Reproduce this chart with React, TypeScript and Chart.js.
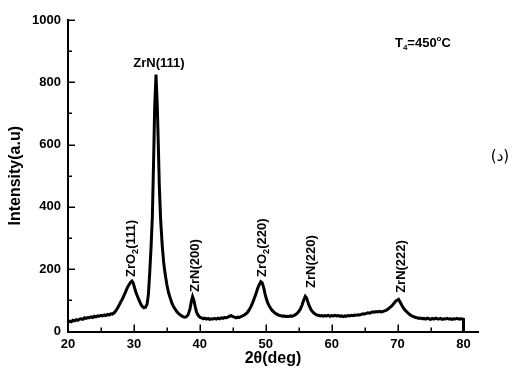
import React, { useEffect, useRef } from 'react';
import { Chart, registerables } from 'chart.js';

Chart.register(...registerables);

// 2θ (deg) positions of the trace
const twoTheta = [
  20.0, 20.25, 20.5, 20.75, 21.0, 21.25, 21.5, 21.75, 22.0, 22.25, 22.5, 22.75,
  23.0, 23.25, 23.5, 23.75, 24.0, 24.25, 24.5, 24.75, 25.0, 25.25, 25.5, 25.75,
  26.0, 26.25, 26.5, 26.75, 27.0, 27.25, 27.5, 27.75, 28.0, 28.25, 28.5, 28.75,
  29.0, 29.25, 29.5, 29.7, 29.9, 30.1, 30.3, 30.5, 30.75, 31.0, 31.25, 31.5,
  31.75, 32.0, 32.2, 32.4, 32.6, 32.8, 33.0, 33.15, 33.35, 33.55, 33.7, 33.85,
  34.05, 34.3, 34.5, 34.7, 35.0, 35.25, 35.5, 35.75, 36.0, 36.25, 36.5, 36.75,
  37.0, 37.25, 37.5, 37.75, 38.0, 38.25, 38.5, 38.7, 38.9, 39.1, 39.3, 39.5,
  39.75, 40.0, 40.25, 40.5, 40.75, 41.0, 41.25, 41.5, 41.75, 42.0, 42.25, 42.5,
  42.75, 43.0, 43.25, 43.5, 43.75, 44.0, 44.25, 44.5, 44.75, 45.0, 45.25, 45.5,
  45.75, 46.0, 46.25, 46.5, 46.75, 47.0, 47.25, 47.5, 47.75, 48.0, 48.25, 48.5,
  48.75, 49.0, 49.25, 49.45, 49.7, 49.9, 50.1, 50.3, 50.5, 50.75, 51.0, 51.25,
  51.5, 51.75, 52.0, 52.25, 52.5, 52.75, 53.0, 53.25, 53.5, 53.75, 54.0, 54.25,
  54.5, 54.75, 55.0, 55.25, 55.5, 55.75, 56.0, 56.2, 56.4, 56.6, 56.8, 57.0,
  57.25, 57.5, 57.75, 58.0, 58.25, 58.5, 58.75, 59.0, 59.25, 59.5, 59.75, 60.0,
  60.25, 60.5, 60.75, 61.0, 61.25, 61.5, 61.75, 62.0, 62.25, 62.5, 62.75, 63.0,
  63.25, 63.5, 63.75, 64.0, 64.25, 64.5, 64.75, 65.0, 65.25, 65.5, 65.75, 66.0,
  66.25, 66.5, 66.75, 67.0, 67.25, 67.5, 67.75, 68.0, 68.25, 68.5, 68.75, 69.0,
  69.25, 69.5, 69.75, 70.0, 70.15, 70.3, 70.5, 70.75, 71.0, 71.25, 71.5, 71.75,
  72.0, 72.25, 72.5, 72.75, 73.0, 73.25, 73.5, 73.75, 74.0, 74.25, 74.5, 74.75,
  75.0, 75.25, 75.5, 75.75, 76.0, 76.25, 76.5, 76.75, 77.0, 77.25, 77.5, 77.75,
  78.0, 78.25, 78.5, 78.75, 79.0, 79.25, 79.5, 79.75, 80.0, 80.0,
];

// Intensity (a.u)
const intensity = [
  30, 33, 31, 36, 34, 38, 36, 40, 41, 39, 44, 42,
  45, 44, 47, 45, 49, 47, 50, 49, 52, 50, 53, 51,
  55, 53, 57, 56, 60, 66, 75, 84, 95, 104, 116, 128,
  141, 150, 158, 162, 155, 140, 126, 115, 102, 90, 81, 76,
  78, 88, 120, 190, 270, 370, 560, 720, 825, 720, 600, 470,
  360, 275, 225, 190, 150, 125, 108, 92, 80, 72, 64, 58,
  54, 50, 47, 46, 48, 55, 72, 95, 112, 100, 80, 62,
  52, 46, 44, 41, 43, 40, 42, 39, 41, 40, 42, 40,
  43, 41, 44, 42, 45, 44, 46, 49, 51, 48, 46, 44,
  46, 45, 48, 50, 53, 57, 62, 70, 80, 92, 106, 120,
  137, 150, 160, 157, 140, 120, 104, 92, 83, 74, 67, 62,
  58, 55, 52, 51, 49, 50, 48, 49, 48, 50, 49, 51,
  54, 58, 64, 72, 84, 100, 113, 108, 94, 82, 73, 66,
  60, 56, 53, 52, 50, 51, 49, 51, 50, 52, 49, 51,
  50, 52, 50, 51, 49, 50, 48, 50, 49, 51, 50, 52,
  51, 53, 52, 54, 53, 55, 57, 56, 58, 60, 59, 61,
  63, 62, 64, 63, 65, 63, 64, 66, 68, 71, 76, 80,
  85, 92, 98, 101, 103, 98, 90, 80, 72, 66, 61, 56,
  52, 49, 47, 45, 44, 42, 43, 41, 42, 40, 43, 41,
  39, 42, 40, 43, 41, 40, 42, 39, 41, 40, 42, 40,
  41, 39, 41, 40, 42, 40, 41, 40, 39, 0,
];

const xTicks = [20, 30, 40, 50, 60, 70, 80];
const yTicks = [0, 200, 400, 600, 800, 1000];

// Peak labels (vertical): parts with odd index are subscripts
const peakLabelParts = [
  ['ZrO', '2', '(111)'],
  ['ZrN(200)'],
  ['ZrO', '2', '(220)'],
  ['ZrN(220)'],
  ['ZrN(222)'],
];
const peakLabelX = [29.5, 39.25, 49.5, 56.85, 70.55];
const peakLabelBase = [175, 127, 175, 140, 124];

const mainPeakLabel = 'ZrN(111)';
const mainPeakLabelX = 33.8;
const mainPeakLabelY = 850;

const tempParts = ['T', '4', '=450', 'o', 'C'];
const tempX = 69.6;
const tempY = 913;

const sideLabel = '(د)';
const sideLabelY = 547;

const FONT = '"Liberation Sans", Arial, sans-serif';

const annotPlugin = {
  id: 'annot',
  afterDraw(chart: any) {
    const { ctx, chartArea, scales } = chart;
    const xs = scales.x;
    const ys = scales.y;
    ctx.save();
    // inward tick marks
    ctx.strokeStyle = '#000';
    ctx.lineWidth = 1.5;
    for (let v = 20; v <= 80; v += 5) {
      const px = Math.round(xs.getPixelForValue(v)) + 0.25;
      const len = v % 10 === 0 ? 7 : 4;
      ctx.beginPath();
      ctx.moveTo(px, chartArea.bottom);
      ctx.lineTo(px, chartArea.bottom - len);
      ctx.stroke();
    }
    for (let v = 0; v <= 1000; v += 100) {
      const py = Math.round(ys.getPixelForValue(v)) + 0.25;
      const len = v % 200 === 0 ? 7 : 4;
      ctx.beginPath();
      ctx.moveTo(chartArea.left, py);
      ctx.lineTo(chartArea.left + len, py);
      ctx.stroke();
    }

    ctx.fillStyle = '#000';
    ctx.textBaseline = 'alphabetic';
    ctx.textAlign = 'left';

    // vertical peak labels
    peakLabelParts.forEach((parts, i) => {
      const px = xs.getPixelForValue(peakLabelX[i]);
      const py = ys.getPixelForValue(peakLabelBase[i]);
      ctx.save();
      ctx.translate(px, py);
      ctx.rotate(-Math.PI / 2);
      let x = 0;
      parts.forEach((p, j) => {
        const sub = j % 2 === 1;
        ctx.font = sub ? `bold 9px ${FONT}` : `bold 13px ${FONT}`;
        ctx.fillText(p, x, sub ? 7 : 4);
        x += ctx.measureText(p).width;
      });
      ctx.restore();
    });

    // main peak label
    ctx.font = `bold 13px ${FONT}`;
    ctx.textAlign = 'center';
    ctx.fillText(mainPeakLabel, xs.getPixelForValue(mainPeakLabelX), ys.getPixelForValue(mainPeakLabelY));

    // temperature label
    ctx.textAlign = 'left';
    let tx = xs.getPixelForValue(tempX);
    const ty = ys.getPixelForValue(tempY);
    tempParts.forEach((p, j) => {
      const small = j === 1 || j === 3;
      ctx.font = small ? `bold 8px ${FONT}` : `bold 13px ${FONT}`;
      const dy = j === 1 ? 3 : j === 3 ? -6 : 0;
      ctx.fillText(p, tx, ty + dy);
      tx += ctx.measureText(p).width;
    });

    // side label
    ctx.font = `15px "DejaVu Sans", sans-serif`;
    ctx.textAlign = 'center';
    ctx.fillText(sideLabel, chartArea.right + 22, ys.getPixelForValue(sideLabelY));
    ctx.restore();
  },
};

export default function App() {
  const ref = useRef<HTMLCanvasElement | null>(null);
  useEffect(() => {
    document.body.style.margin = '0';
    const canvas = ref.current;
    if (!canvas) return;
    const points = twoTheta.map((x, i) => ({ x, y: intensity[i] }));
    const chart = new Chart(canvas, {
      type: 'line',
      data: {
        datasets: [
          {
            data: points,
            borderColor: '#000',
            borderWidth: 3,
            pointRadius: 0,
            tension: 0,
            fill: false,
          },
        ],
      },
      options: {
        animation: false,
        responsive: false,
        devicePixelRatio: 1,
        layout: { padding: { left: 0, right: 35, top: 20, bottom: 0 } },
        plugins: { legend: { display: false }, tooltip: { enabled: false } },
        scales: {
          x: {
            type: 'linear',
            min: 20,
            max: 82.2,
            afterFit: (s: any) => { s.height = 41.5; },
            afterBuildTicks: (s: any) => { s.ticks = xTicks.map((v) => ({ value: v })); },
            grid: { display: false, drawTicks: false },
            border: { display: true, color: '#000', width: 2 },
            ticks: {
              autoSkip: false,
              maxRotation: 0,
              padding: 5,
              color: '#000',
              font: { family: FONT, size: 13, weight: 'bold' },
              callback: (v: any) => String(v),
            },
            title: {
              display: true,
              text: '2θ(deg)',
              color: '#000',
              font: { family: FONT, size: 16, weight: 'bold' },
              padding: { top: 0, bottom: 5 },
            },
          },
          y: {
            type: 'linear',
            min: 0,
            max: 1000,
            afterFit: (s: any) => { s.width = 68; },
            afterBuildTicks: (s: any) => { s.ticks = yTicks.map((v) => ({ value: v })); },
            grid: { display: false, drawTicks: false },
            border: { display: true, color: '#000', width: 2 },
            ticks: {
              padding: 7,
              color: '#000',
              font: { family: FONT, size: 13, weight: 'bold' },
              callback: (v: any) => String(v),
            },
            title: {
              display: true,
              text: 'Intensity(a.u)',
              color: '#000',
              font: { family: FONT, size: 16, weight: 'bold' },
              padding: { top: 6, bottom: 0 },
            },
          },
        },
      },
      plugins: [annotPlugin],
    });
    return () => chart.destroy();
  }, []);
  return (
    <div style={{ position: 'absolute', left: 0, top: 0, width: 513, height: 373, background: '#fff' }}>
      <canvas ref={ref} width={513} height={373} />
    </div>
  );
}
